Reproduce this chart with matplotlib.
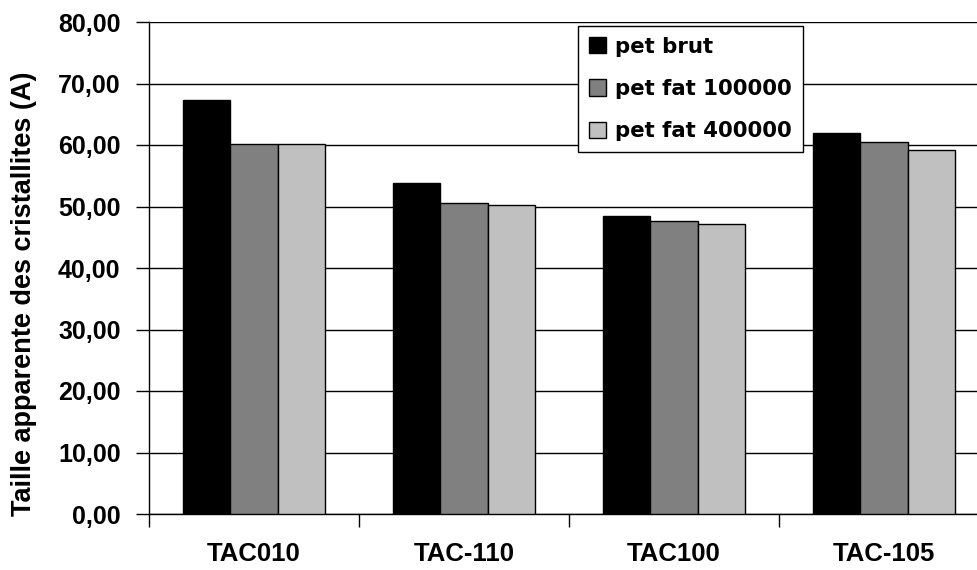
import numpy as np
import matplotlib
matplotlib.use("Agg")
import matplotlib.pyplot as plt

# data
categories = ["TAC010", "TAC-110", "TAC100", "TAC-105"]
pet_brut = [67.3, 53.8, 48.4, 61.9]
pet_fat_100000 = [60.2, 50.5, 47.7, 60.5]
pet_fat_400000 = [60.2, 50.2, 47.1, 59.2]
series_names = ["pet brut", "pet fat 100000", "pet fat 400000"]
y_ticks = [0, 10, 20, 30, 40, 50, 60, 70, 80]

colors = ["#000000", "#808080", "#c0c0c0"]
series = [pet_brut, pet_fat_100000, pet_fat_400000]

fig = plt.figure(figsize=(9.78, 5.70), dpi=100)
ax = fig.add_axes([149 / 978, 56 / 570, 840 / 978, 492 / 570])

x = np.arange(len(categories))
w = 0.224
for i, (vals, name, c) in enumerate(zip(series, series_names, colors)):
    ax.bar(x + (i - 1) * w, vals, w, color=c, edgecolor="black",
           linewidth=1.0, label=name, zorder=3)

ax.set_xlim(-0.5, len(categories) - 0.5)
ax.set_ylim(0, 80)
ax.set_yticks(y_ticks)
ax.set_yticklabels([f"{v:.2f}".replace(".", ",") for v in y_ticks],
                   fontfamily="Liberation Sans", fontweight="bold", fontsize=18)
ax.yaxis.grid(True, color="black", linewidth=1.0, zorder=0)
ax.set_axisbelow(True)
ax.tick_params(axis="y", length=9.5, width=1.0, pad=11, color="black")

ax.set_xticks(x)
ax.set_xticklabels(categories, fontfamily="Liberation Sans",
                   fontweight="bold", fontsize=18.5)
ax.set_xticks(np.arange(-0.5, len(categories) + 0.5, 1.0), minor=True)
ax.tick_params(axis="x", which="major", length=0, pad=20)
ax.tick_params(axis="x", which="minor", length=9, width=1.0, color="black")

for s in ["top", "right"]:
    ax.spines[s].set_visible(False)
for s in ["left", "bottom"]:
    ax.spines[s].set_color("black")
    ax.spines[s].set_linewidth(1.0)

fig.text(24 / 978, 1 - 294 / 570, "Taille apparente des cristallites (A)",
         rotation=90, ha="center", va="center",
         fontfamily="Liberation Sans", fontweight="bold", fontsize=19.5)

leg = ax.legend(loc="upper left", bbox_to_anchor=(578 / 978, 1 - 26 / 570),
                bbox_transform=fig.transFigure,
                prop={"family": "DejaVu Sans", "weight": "bold", "size": 15.3},
                frameon=True, fancybox=False, shadow=False,
                handlelength=0.8, handleheight=0.8, handletextpad=0.45,
                labelspacing=1.05, borderpad=0.5, borderaxespad=0)
leg.get_frame().set_edgecolor("black")
leg.get_frame().set_linewidth(1.0)
leg.get_frame().set_alpha(1)

fig.savefig("out.png", dpi=100)
